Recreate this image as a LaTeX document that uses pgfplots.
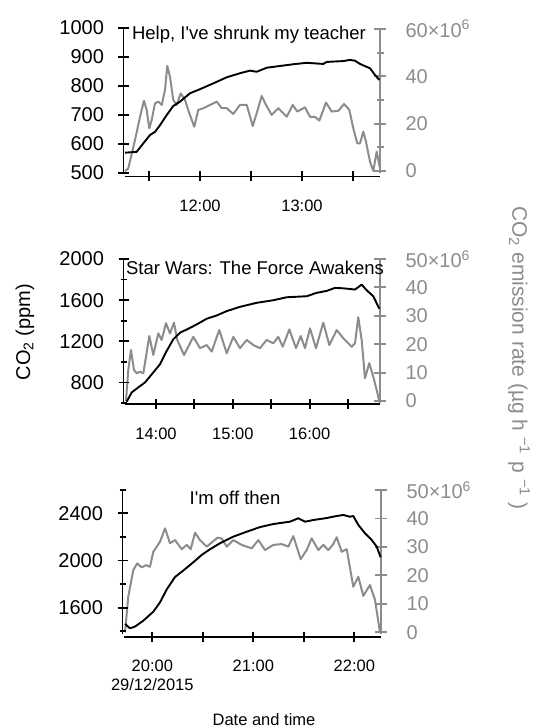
\documentclass[border=0pt]{standalone}
\usepackage{pgfplots}
\pgfplotsset{compat=1.18}
\usepackage{fontspec}
\setmainfont{Liberation Sans}[Ligatures=TeXOff]
\definecolor{gr}{RGB}{140,140,140}
\pgfplotsset{
  every tick/.append style={line width=1.8pt},
  every major tick/.append style={line width=1.8pt},
  every minor tick/.append style={line width=1.8pt},
  base/.style={scale only axis, clip=false, tick align=outside,
    major tick length=10pt, minor tick length=6pt,
    /pgf/number format/assume math mode=true,
    yticklabel style={font=\fontsize{20}{23}\selectfont},
    xticklabel style={font=\fontsize{16.5}{19}\selectfont, align=center},
    xticklabel shift=15pt,
  },
  L/.style={base, axis y line=left, axis x line=bottom,
    axis x line shift=3.5pt, axis y line shift=1.5pt,
    axis line style={line width=1.8pt,-},
    x axis line style={-}, y axis line style={-},
    tick style={black, line width=1.8pt},
    yticklabel shift=11pt,
  },
  R/.style={base, axis y line=right, axis x line=none, xtick=\empty,
    major tick length=12pt, minor tick length=7pt,
    axis line style={line width=1.8pt,-},
    y axis line style={gr,-},
    tick style={gr, line width=1.8pt},
    yticklabel style={text=gr}, yticklabel shift=16pt,
  },
  bl/.style={black, line width=1.9pt, line join=round},
  gl/.style={gr, line width=2pt, line join=round},
}
\begin{document}
\begin{tikzpicture}[line width=1.8pt]
\useasboundingbox (0pt,0pt) rectangle (539pt,728pt);
% ---------- Panel 1 ----------
\begin{axis}[R, at={(125pt,555pt)}, anchor=south west, width=255pt, height=145pt,
  xmin=11.2647, xmax=13.7647, ymin=-0.85, ymax=60.4,
  ytick={0,20,40,60}, minor ytick={10,30,50},
  yticklabels={0,20,40,{60×10\textsuperscript{6}}}]
\addplot[gl] coordinates {
(11.265,0) (11.297,1.1) (11.363,13.1) (11.412,22.9) (11.451,29.7) (11.477,25.8)
(11.503,18.0) (11.526,21.5) (11.559,28.6) (11.591,29.3) (11.625,27.9) (11.657,34.2)
(11.679,44.4) (11.706,39.8) (11.738,30.0) (11.772,27.9) (11.811,32.8) (11.853,30.0)
(11.895,24.4) (11.944,18.7) (11.983,25.8) (12.032,26.5) (12.098,27.9) (12.164,29.3)
(12.213,26.5) (12.262,26.5) (12.326,24.1) (12.392,27.9) (12.458,27.9) (12.517,19.0)
(12.556,24.4) (12.605,31.7) (12.647,27.9) (12.703,23.7) (12.768,26.5) (12.850,22.9)
(12.909,27.9) (12.954,25.1) (13.029,26.9) (13.078,22.9) (13.127,22.9) (13.170,21.3)
(13.235,28.9) (13.291,25.1) (13.356,25.4) (13.412,28.3) (13.464,25.8) (13.503,18.0)
(13.542,11.7) (13.569,11.7) (13.601,16.6) (13.627,12.4) (13.667,3.9) (13.699,0)
(13.732,8.2) (13.765,1.1)};
\end{axis}
\begin{axis}[L, at={(125pt,555pt)}, anchor=south west, width=255pt, height=145pt,
  xmin=11.2647, xmax=13.7647, ymin=500, ymax=1000,
  xtick={11.5,12,12.5,13,13.5}, xticklabels={,12:00,,13:00,},
  ytick={500,600,700,800,900,1000}, yticklabels={500,600,700,800,900,1000}]
\addplot[bl] coordinates {
(11.265,570) (11.379,573) (11.444,602) (11.510,631) (11.559,642) (11.608,665)
(11.674,700) (11.738,731) (11.804,746) (11.902,775) (12.000,789) (12.130,809)
(12.262,830) (12.392,844) (12.490,853) (12.556,849) (12.654,863) (12.784,869)
(12.915,875) (13.046,880) (13.209,876) (13.242,883) (13.405,886) (13.471,890)
(13.520,887) (13.569,876) (13.667,861) (13.716,838) (13.758,821)};
\end{axis}
% ---------- Panel 2 ----------
\begin{axis}[R, at={(125pt,325pt)}, anchor=south west, width=255pt, height=144pt,
  xmin=13.5964, xmax=16.9167, ymin=-0.7, ymax=50,
  ytick={0,10,20,30,40,50},
  yticklabels={0,10,20,30,40,{50×10\textsuperscript{6}}}]
\addplot[gl] coordinates {
(13.609,0) (13.639,10.9) (13.674,18.0) (13.714,10.9) (13.749,9.75) (13.792,10.3)
(13.835,9.75) (13.913,22.9) (13.965,16.2) (14.030,23.8) (14.074,21.5) (14.130,27.4)
(14.182,23.8) (14.234,27.6) (14.277,21.5) (14.365,16.2) (14.486,22.6) (14.573,18.6)
(14.660,19.7) (14.725,17.4) (14.824,25.0) (14.921,16.8) (15.007,22.6) (15.094,18.6)
(15.181,21.5) (15.267,19.7) (15.354,18.6) (15.441,21.5) (15.527,20.3) (15.592,22.6)
(15.650,19.1) (15.736,25.2) (15.823,18.6) (15.884,22.9) (15.940,18.6) (16.005,25.6)
(16.083,18.6) (16.178,27.6) (16.257,19.7) (16.353,25.0) (16.439,22.1) (16.548,19.1)
(16.591,20.3) (16.634,29.5) (16.678,21.5) (16.721,8.0) (16.777,13.3) (16.829,8.6)
(16.908,0)};
\end{axis}
\begin{axis}[L, at={(125pt,325pt)}, anchor=south west, width=255pt, height=144pt,
  xmin=13.5964, xmax=16.9167, ymin=600, ymax=2000, axis x line shift=1pt,
  xtick={14,14.5,15,15.5,16,16.5}, xticklabels={14:00,,15:00,,16:00,},
  ytick={800,1200,1600,2000}, yticklabels={800,1200,1600,2000},
  minor ytick={600,1000,1400,1800}]
\addplot[bl] coordinates {
(13.618,612) (13.684,703) (13.770,752) (13.857,800) (13.965,897) (14.052,977)
(14.139,1106) (14.225,1219) (14.313,1284) (14.421,1322) (14.530,1364) (14.660,1419)
(14.790,1451) (14.921,1493) (15.094,1535) (15.311,1574) (15.527,1599) (15.702,1628)
(15.962,1638) (16.092,1671) (16.223,1690) (16.330,1719) (16.439,1715) (16.591,1703)
(16.678,1751) (16.743,1696) (16.829,1638) (16.908,1516)};
\end{axis}
% ---------- Panel 3 ----------
\begin{axis}[R, at={(124pt,94pt)}, anchor=south west, width=257pt, height=145pt,
  xmin=19.7198, xmax=22.2644, ymin=-0.6, ymax=50.35,
  ytick={0,10,20,30,40,50},
  yticklabels={0,10,20,30,40,{50×10\textsuperscript{6}}}]
\addplot[gl] coordinates {
(19.730,0) (19.762,12.5) (19.812,21.9) (19.851,24.2) (19.895,22.8) (19.938,23.6)
(19.977,23.0) (20.010,28.3) (20.076,31.8) (20.126,36.5) (20.175,31.3) (20.225,32.4)
(20.291,29.2) (20.341,30.7) (20.380,29.2) (20.423,35.0) (20.472,32.4) (20.539,30.1)
(20.644,33.2) (20.687,33.0) (20.737,30.1) (20.802,32.4) (20.885,30.7) (20.984,29.5)
(21.050,32.4) (21.116,28.9) (21.198,30.7) (21.281,31.0) (21.347,30.1) (21.396,33.8)
(21.469,25.7) (21.529,28.9) (21.578,33.0) (21.644,28.9) (21.693,30.7) (21.743,28.9)
(21.786,30.7) (21.826,33.4) (21.875,28.3) (21.925,29.2) (21.990,16.0) (22.040,19.5)
(22.089,12.8) (22.155,16.6) (22.205,11.4) (22.254,0)};
\end{axis}
\begin{axis}[L, at={(124pt,94pt)}, anchor=south west, width=257pt, height=145pt,
  xmin=19.7198, xmax=22.2644, ymin=1377, ymax=2606, axis x line shift=2.7pt,
  xtick={20,20.5,21,21.5,22}, xticklabels={{20:00\\29/12/2015},,21:00,,22:00},
  ytick={1600,2000,2400}, yticklabels={1600,2000,2400},
  minor ytick={1400,1800,2200,2600}]
\addplot[bl] coordinates {
(19.730,1462) (19.779,1425) (19.829,1440) (19.911,1490) (20.010,1566) (20.076,1645)
(20.143,1755) (20.225,1860) (20.307,1915) (20.406,1985) (20.489,2047) (20.571,2095)
(20.670,2146) (20.802,2202) (20.935,2244) (21.066,2283) (21.198,2309) (21.363,2329)
(21.446,2358) (21.512,2329) (21.594,2343) (21.727,2360) (21.826,2377) (21.891,2386)
(21.957,2371) (21.990,2377) (22.040,2301) (22.106,2231) (22.172,2174) (22.222,2117)
(22.261,2027)};
\end{axis}
% ---------- titles and labels ----------
\node[font=\fontsize{18.5}{21}\selectfont] at (249pt,693pt) {Help, I've shrunk my teacher};
\node[font=\fontsize{18.5}{21}\selectfont] at (255pt,460pt) {Star Wars: The Force Awakens};
\node[font=\fontsize{18.5}{21}\selectfont] at (235pt,230pt) {I'm off then};
\node[font=\fontsize{20}{23}\selectfont, rotate=90] at (25pt,396pt) {CO\textsubscript{2} (ppm)};
\node[font=\fontsize{21}{24}\selectfont, rotate=-90, text=gr] at (519pt,370pt)
  {CO\textsubscript{2} emission rate (µg h\hspace{6pt}\textsuperscript{−1}\hspace{7pt}p\hspace{6pt}\textsuperscript{−1}\hspace{6pt})};
\node[font=\fontsize{16.5}{19}\selectfont] at (264pt,8pt) {Date and time};
\end{tikzpicture}
\end{document}
